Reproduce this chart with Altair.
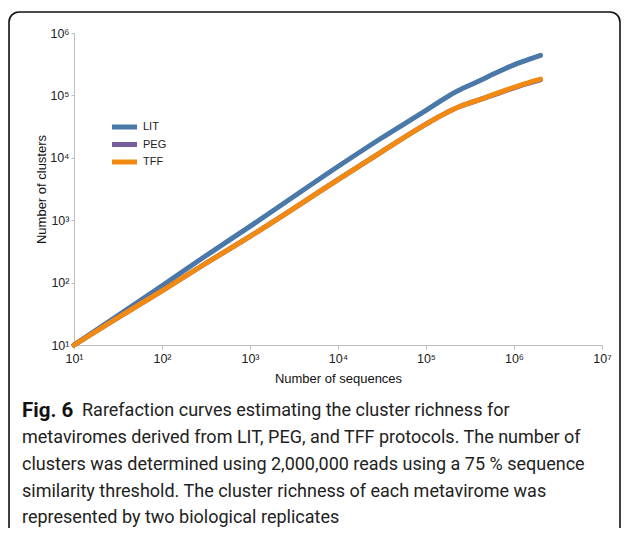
import altair as alt
import pandas as pd

# ---- data (number of sequences vs number of clusters)
seqs = [10, 30, 100, 300, 1000, 3000, 10000, 30000, 100000, 150000, 200000,
        250000, 300000, 400000, 600000, 1000000, 1500000, 2000000]
lit = [10, 28.2, 89, 257, 794, 2291, 7244, 20000, 57500, 83000, 107000,
       126000, 141000, 170000, 224000, 309000, 380000, 437000]
peg = [10, 26.3, 74, 195, 550, 1479, 4467, 12023, 34674, 47863, 58884,
       67608, 74131, 84500, 103000, 132500, 159000, 178000]
tff = [10, 26.3, 74, 195, 550, 1479, 4467, 12023, 34674, 47863, 58884,
       67608, 74131, 85114, 104713, 134896, 162181, 181970]
series = ["LIT", "PEG", "TFF"]
colors = ["#4a78a8", "#765d99", "#f28a12"]
x_ticks = [10, 100, 1000, 10000, 100000, 1000000, 10000000]
y_ticks = [10, 100, 1000, 10000, 100000, 1000000]

caption_bold = "Fig. 6"
caption_lines = [
    "Rarefaction curves estimating the cluster richness for",
    "metaviromes derived from LIT, PEG, and TFF protocols. The number of",
    "clusters was determined using 2,000,000 reads using a 75 % sequence",
    "similarity threshold. The cluster richness of each metavirome was",
    "represented by two biological replicates",
]

rows = []
for name, vals in zip(series, [lit, peg, tff]):
    for i, (s, v) in enumerate(zip(seqs, vals)):
        rows.append({"seq": s, "clusters": v, "protocol": name, "i": i})
df = pd.DataFrame(rows)
legend_df = pd.DataFrame({"protocol": series})

sup = "['⁰','¹','²','³','⁴','⁵','⁶','⁷']"
label_expr = "'10' + " + sup + "[round(log(datum.value)/LN10)]"
FONT = "Liberation Sans"

color_enc = alt.Color("protocol:N", scale=alt.Scale(domain=series, range=colors), legend=None)

lines = alt.Chart(df).mark_line(strokeWidth=5, interpolate="monotone", strokeCap="round").encode(
    x=alt.X("seq:Q", scale=alt.Scale(type="log", domain=[10, 10000000]),
            axis=alt.Axis(values=x_ticks, labelExpr=label_expr, title="Number of sequences",
                          grid=False, domainColor="#bdbdbd", tickColor="#bdbdbd", tickSize=4,
                          labelFlush=False, labelFont=FONT, labelFontSize=12.5,
                          labelColor="#222", titleFont=FONT, titleFontSize=13,
                          titleFontWeight="normal", titleColor="#111", titlePadding=8,
                          labelPadding=3)),
    y=alt.Y("clusters:Q", scale=alt.Scale(type="log", domain=[10, 1000000]),
            axis=alt.Axis(values=y_ticks, labelExpr=label_expr, title="Number of clusters",
                          grid=False, domainColor="#bdbdbd", tickColor="#bdbdbd", tickSize=3,
                          labelFlush=False, labelFont=FONT, labelFontSize=12.5,
                          labelColor="#222", titleFont=FONT, titleFontSize=13,
                          titleFontWeight="normal", titleColor="#111", titlePadding=1,
                          labelPadding=2)),
    color=color_enc,
    order=alt.Order("i:Q"),
    detail="protocol:N",
)

# hand-built legend (rows placed by a point scale over the series names)
leg_y = alt.Y("protocol:N", scale=alt.Scale(type="point", domain=series, range=[94, 129], padding=0),
              axis=None)
leg_sym = alt.Chart(legend_df).mark_rule(strokeWidth=5).encode(
    x=alt.value(38), x2=alt.value(63), y=leg_y, color=color_enc)
leg_txt = alt.Chart(legend_df).mark_text(font=FONT, fontSize=11, align="left", baseline="middle",
                                         color="#222").encode(
    x=alt.value(69), y=leg_y, text="protocol:N")

one = alt.Data(values=[{"a": 1}])

frame = alt.Chart(one).mark_rect(fill=None, stroke="#111", strokeWidth=1.6, cornerRadius=10).encode(
    x=alt.value(-65), x2=alt.value(546), y=alt.value(-21), y2=alt.value(600)
)

cap_font = "Roboto"
cap_size = 18
layers = [frame, lines, leg_sym, leg_txt]
layers.append(alt.Chart(one).mark_text(font=cap_font, fontSize=20.5, fontWeight="bold",
                                       align="left", baseline="middle", color="#111").encode(
    x=alt.value(-52), y=alt.value(378), text=alt.value(caption_bold)))
y_pos = [378, 405, 432, 459, 485]
x_pos = [8, -52, -52, -52, -52]
for t, yy, xx in zip(caption_lines, y_pos, x_pos):
    layers.append(alt.Chart(one).mark_text(font=cap_font, fontSize=cap_size, align="left",
                                           baseline="middle", color="#222").encode(
        x=alt.value(xx), y=alt.value(yy), text=alt.value(t)))

chart = alt.layer(*layers).resolve_scale(y="independent").properties(
    width=528, height=312,
    autosize=alt.AutoSizeParams(type="none"),
    padding={"left": 66, "top": 25, "right": 19, "bottom": 183},
).configure_view(stroke=None)

chart.save("out.html", embed_options={"renderer": "svg", "actions": False})
